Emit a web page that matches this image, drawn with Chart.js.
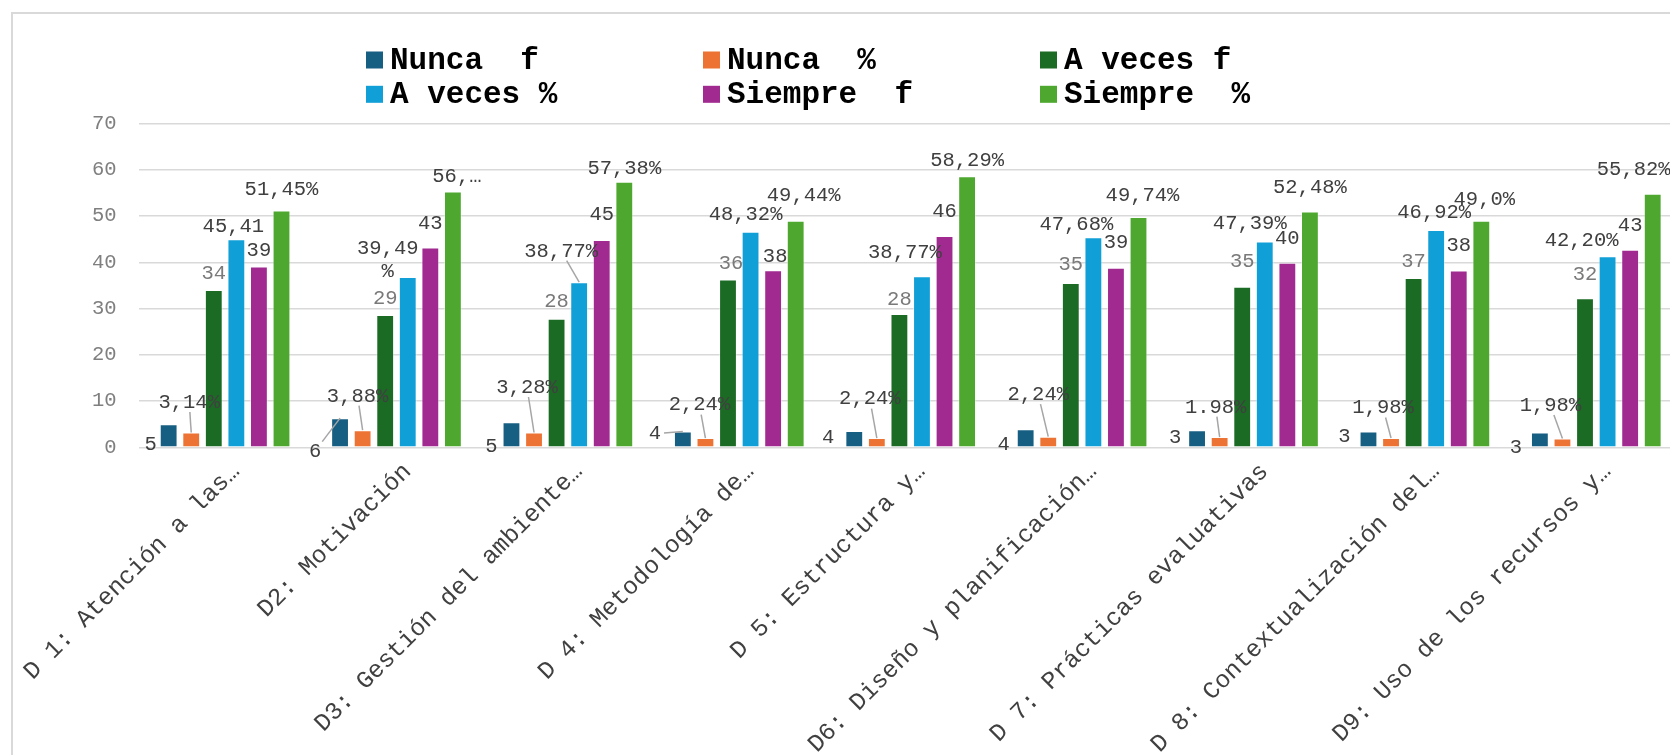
<!DOCTYPE html>
<html>
<head>
<meta charset="utf-8">
<script src="https://cdn.jsdelivr.net/npm/chart.js@4.4.0/dist/chart.umd.min.js"></script>
<style>
  html, body { margin: 0; padding: 0; background: #fff; overflow: hidden; }
  #wrap { position: absolute; left: 0; top: 0; width: 1700px; height: 755px; }
  #frame { position: absolute; left: 11px; top: 12px; width: 1720px; height: 800px;
           border-left: 2px solid #d9d9d9; border-top: 2px solid #d9d9d9; pointer-events: none; }
</style>
</head>
<body>
<div id="wrap">
  <canvas id="barChart" width="1700" height="755"></canvas>
  <div id="frame"></div>
</div>
<script>
// categories (axis text as shown, already cut by the original chart)
const categories = [
  'D 1: Atención a las…', 'D2: Motivación', 'D3: Gestión del ambiente…',
  'D 4: Metodología de…', 'D 5: Estructura y…', 'D6: Diseño y planificación…',
  'D 7: Prácticas evaluativas', 'D 8: Contextualización del…', 'D9: Uso de los recursos y…'
];
const seriesNames = ['Nunca  f', 'Nunca  %', 'A veces f', 'A veces %', 'Siempre  f', 'Siempre  %'];

// bar heights
const nuncaF    = [5.0, 6.3, 5.4, 3.4, 3.5, 3.9, 3.7, 3.4, 3.2];
const nuncaP    = [3.2, 3.7, 3.2, 2.0, 2.0, 2.3, 2.2, 2.0, 1.9];
const avecesF   = [34.0, 28.6, 27.8, 36.3, 28.8, 35.5, 34.7, 36.6, 32.2];
const avecesP   = [45.0, 36.8, 35.7, 46.6, 37.0, 45.4, 44.5, 47.0, 41.3];
const siempreF  = [39.1, 43.2, 44.8, 38.3, 45.7, 38.8, 39.9, 38.2, 42.7];
const siempreP  = [51.2, 55.3, 57.4, 49.0, 58.6, 49.8, 51.0, 49.0, 54.8];

// data label texts as printed on the chart
const nuncaFText   = ['5', '6', '5', '4', '4', '4', '3', '3', '3'];
const nuncaPText   = ['3,14%', '3,88%', '3,28%', '2,24%', '2,24%', '2,24%', '1.98%', '1,98%', '1,98%'];
const avecesFText  = ['34', '29', '28', '36', '28', '35', '35', '37', '32'];
const avecesPText  = ['45,41', '39,49\n%', '38,77%', '48,32%', '38,77%', '47,68%', '47,39%', '46,92%', '42,20%'];
const siempreFText = ['39', '43', '45', '38', '46', '39', '40', '38', '43'];
const siemprePText = ['51,45%', '56,…', '57,38%', '49,44%', '58,29%', '49,74%', '52,48%', '49,0%', '55,82%'];

// y axis
const yMin = 0, yMax = 70, yStep = 10;

const colors = ['#175f82', '#ec7333', '#1b6b25', '#119fd7', '#a02a90', '#4ea82f'];
const labelColors = ['#404040', '#404040', '#7a7a7a', '#404040', '#404040', '#404040'];
const FONT = "'Courier New', 'Liberation Mono', monospace";

// label placement: [dx from bar centre, dy from bar top to label centre, leader line]
const labelNudge = [
  [[-18, 20], [-25, 33, 1], [-20, 24], [-28, 2, 1], [-26, 6], [-22, 15], [-22, 7], [-24, 5], [-24, 15]],
  [[-2, -30, 1], [-5, -34, 1], [-7, -45, 1], [-6, -33, 1], [-7, -39, 1], [-10, -42, 1], [-4, -30, 1], [-8, -30, 1], [-12, -33, 1]],
  [[0, -16], [0, -16], [0, -17], [3, -16], [0, -15], [0, -19], [0, -25], [0, -16], [0, -24]],
  [[-3, -13], [-20, -17], [-18, -31, 1], [-5, -17], [-17, -24], [-17, -13], [-15, -18], [-2, -17], [-26, -16]],
  [[0, -16], [0, -24], [0, -25], [2, -14], [0, -24], [0, -25], [0, -24], [0, -25], [0, -24]],
  [[0, -21], [4, -15], [0, -13], [8, -25], [0, -16], [4, -21], [0, -24], [3, -21], [-19, -24]]
];

const seriesValues = [nuncaF, nuncaP, avecesF, avecesP, siempreF, siempreP];
const seriesTexts = [nuncaFText, nuncaPText, avecesFText, avecesPText, siempreFText, siemprePText];

const datasets = seriesNames.map((name, i) => ({
  label: name,
  data: seriesValues[i],
  backgroundColor: colors[i],
  borderColor: 'rgba(255,255,255,0.35)',
  borderWidth: 1,
  texts: seriesTexts[i]
}));

// draws the data labels (with leader lines where the original had them)
const dataLabels = {
  id: 'dataLabels',
  afterDatasetsDraw(chart) {
    const ctx = chart.ctx;
    ctx.save();
    ctx.font = '20.5px ' + FONT;
    ctx.textAlign = 'center';
    ctx.textBaseline = 'middle';
    chart.data.datasets.forEach((ds, i) => {
      const meta = chart.getDatasetMeta(i);
      meta.data.forEach((bar, j) => {
        const nudge = labelNudge[i][j];
        const lines = ds.texts[j].split('\n');
        const lh = 23;
        const cx = bar.x + nudge[0];
        const cy = bar.y + nudge[1];
        let w = 0;
        lines.forEach(l => { w = Math.max(w, ctx.measureText(l).width); });
        const h = lh * lines.length;
        if (nudge[2]) {
          const dx = bar.x - cx, dy = bar.y - cy;
          const hw = w / 2 + 3, hh = h / 2 - 2;
          const t = Math.min(Math.abs(hw / (dx || 1e-6)), Math.abs(hh / (dy || 1e-6)));
          if (t < 1) {
            ctx.strokeStyle = '#a6a6a6';
            ctx.lineWidth = 1.5;
            ctx.beginPath();
            ctx.moveTo(cx + dx * t, cy + dy * t);
            ctx.lineTo(bar.x, bar.y);
            ctx.stroke();
          }
        }
        ctx.fillStyle = labelColors[i];
        lines.forEach((l, k) => {
          ctx.fillText(l, cx, cy - h / 2 + lh / 2 + k * lh);
        });
      });
    });
    ctx.restore();
  }
};

// legend in three columns, two rows
const gridLegend = {
  id: 'gridLegend',
  afterDraw(chart) {
    const ctx = chart.ctx;
    ctx.save();
    ctx.font = 'bold 31px ' + FONT;
    ctx.textBaseline = 'middle';
    ctx.textAlign = 'left';
    chart.data.datasets.forEach((ds, i) => {
      const x = 366 + (i % 3) * 337;
      const y = 60 + Math.floor(i / 3) * 34.3;
      ctx.fillStyle = ds.backgroundColor;
      ctx.fillRect(x, y - 8.5, 17, 17);
      ctx.fillStyle = '#000';
      ctx.fillText(ds.label, x + 24, y + 1);
    });
    ctx.restore();
  }
};

const ctx = document.getElementById('barChart').getContext('2d');
const barChart = new Chart(ctx, {
  type: 'bar',
  data: { labels: categories, datasets: datasets },
  plugins: [dataLabels, gridLegend],
  options: {
    responsive: false,
    animation: false,
    devicePixelRatio: 1,
    layout: { padding: { top: 123.5, right: 18, left: 0, bottom: 0 } },
    datasets: { bar: { categoryPercentage: 0.79, barPercentage: 0.79 } },
    plugins: { legend: { display: false }, tooltip: { enabled: false } },
    scales: {
      x: {
        grid: { display: false, drawTicks: false },
        border: { display: false },
        ticks: {
          autoSkip: false, minRotation: 45, maxRotation: 45, padding: 10, labelOffset: 11,
          color: '#404040', font: { family: FONT, size: 24.5 }
        },
        afterFit(scale) { scale.height = 307.7; }
      },
      y: {
        min: yMin, max: yMax,
        grid: { color: '#d9d9d9', lineWidth: 1.5, drawTicks: false },
        border: { display: false },
        ticks: {
          stepSize: yStep, padding: 22.7,
          color: '#7f7f7f', font: { family: FONT, size: 20.5 }
        },
        afterFit(scale) { scale.width = 128.7; }
      }
    }
  }
});
</script>
</body>
</html>
